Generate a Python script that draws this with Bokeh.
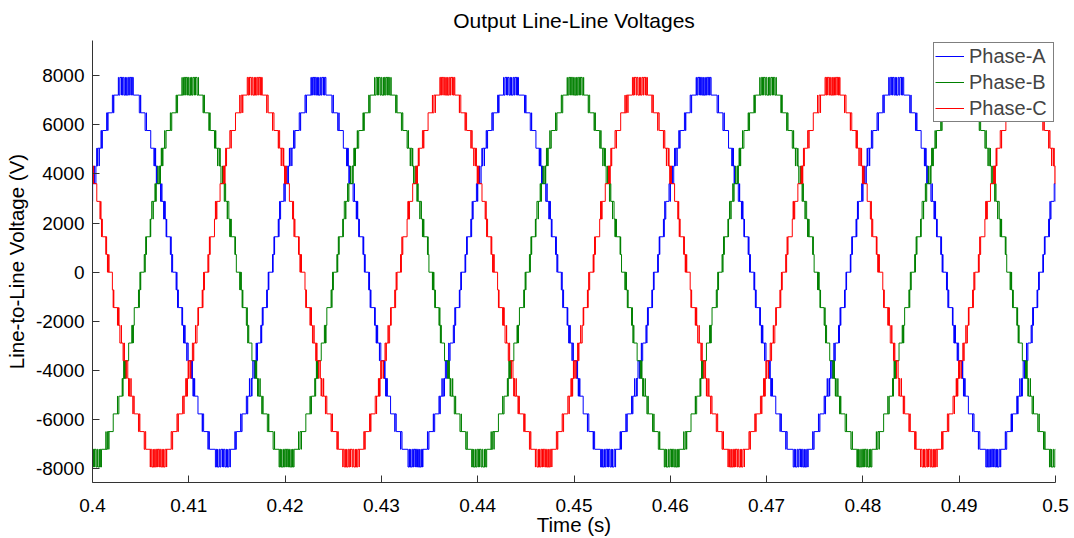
import numpy as np
from bokeh.plotting import figure
from bokeh.models import Range1d, Legend, LegendItem, FixedTicker
from bokeh.embed import file_html
from bokeh.resources import INLINE

# ---- inverter / waveform data -------------------------------------------
PHASE_NAMES = ["Phase-A", "Phase-B", "Phase-C"]
PHASE_CREST_TIME = [0.40517, 0.41183, 0.41850]   # s, first crest of each phase-leg reference
FUNDAMENTAL_FREQ = 50.0                          # Hz
PHASE_REF_PEAK = 4400.0                          # V, peak of each phase reference
LEVEL_STEP = 720.0                               # V per cell (one output level)
DITHER_BAND = 0.5                                # share of a level over which the carrier dithers
CARRIER_FREQ = 5000.0                            # Hz
TIME_SPAN = [0.4, 0.5]                           # s
VOLT_SPAN = [-8550, 9420]                        # V

X_TICKS = [0.40, 0.41, 0.42, 0.43, 0.44, 0.45, 0.46, 0.47, 0.48, 0.49, 0.50]
X_TICK_LABELS = ["0.4", "0.41", "0.42", "0.43", "0.44", "0.45",
                 "0.46", "0.47", "0.48", "0.49", "0.5"]
Y_TICKS = [-8000, -6000, -4000, -2000, 0, 2000, 4000, 6000, 8000]
Y_TICK_LABELS = ["-8000", "-6000", "-4000", "-2000", "0",
                 "2000", "4000", "6000", "8000"]

LINE_COLORS = ["#0000ff", "#008000", "#ff0000"]
FONT = "Liberation Sans"

t = np.linspace(TIME_SPAN[0], TIME_SPAN[1], 200001)
carrier = np.abs(2.0 * ((t * CARRIER_FREQ) % 1.0) - 1.0)


def phase_levels(crest_time):
    """Cell count switched in by one cascaded phase leg (nearest level with
    carrier dithering around each level change)."""
    ref = PHASE_REF_PEAK * np.cos(2 * np.pi * FUNDAMENTAL_FREQ * (t - crest_time)) / LEVEL_STEP
    band = np.floor(ref)
    threshold = 0.5 + 0.5 * DITHER_BAND * (2.0 * carrier - 1.0)
    return band + ((ref - band) > threshold)


def step_path(level):
    """Turn a sampled level signal into the vertices of a step line."""
    idx = np.nonzero(np.diff(level))[0] + 1
    xs = [t[0]]
    ys = [level[0]]
    for i in idx:
        xs.extend([t[i], t[i]])
        ys.extend([level[i - 1], level[i]])
    xs.append(t[-1])
    ys.append(level[-1])
    return np.array(xs), np.array(ys) * LEVEL_STEP


legs = [phase_levels(c) for c in PHASE_CREST_TIME]
line_levels = [legs[0] - legs[1], legs[1] - legs[2], legs[2] - legs[0]]

p = figure(width=1074, height=538, output_backend="svg", toolbar_location=None,
           x_range=Range1d(TIME_SPAN[0], TIME_SPAN[1]),
           y_range=Range1d(VOLT_SPAN[0], VOLT_SPAN[1]),
           min_border_left=92, min_border_right=19,
           min_border_top=40, min_border_bottom=56)

p.outline_line_color = None
p.xgrid.visible = False
p.ygrid.visible = False
p.background_fill_color = "white"
p.border_fill_color = "white"

p.title.text = "Output Line-Line Voltages"
p.title.align = "center"
p.title.vertical_align = "top"
p.title.text_baseline = "top"
p.title.text_font = FONT
p.title.text_font_style = "normal"
p.title.text_font_size = "21px"
p.title.text_color = "black"
p.title.standoff = 14

renderers = []
for name, lv, color in zip(PHASE_NAMES, line_levels, LINE_COLORS):
    xs, ys = step_path(lv)
    r = p.line(xs, ys, line_color=color, line_width=1)
    renderers.append(r)

for ax in (p.xaxis[0], p.yaxis[0]):
    ax.axis_line_color = "#333333"
    ax.major_tick_line_color = "#333333"
    ax.major_tick_in = 7
    ax.major_tick_out = 0
    ax.minor_tick_line_color = None
    ax.major_label_text_font = FONT
    ax.major_label_text_font_size = "19px"
    ax.major_label_text_color = "black"
    ax.axis_label_text_font = FONT
    ax.axis_label_text_font_size = "20.5px"
    ax.axis_label_text_font_style = "normal"
    ax.axis_label_text_color = "black"

p.xaxis.ticker = FixedTicker(ticks=X_TICKS)
p.xaxis.major_label_overrides = dict(zip(X_TICKS, X_TICK_LABELS))
p.xaxis.axis_label = "Time (s)"
p.xaxis.axis_label_text_line_height = 0.6
p.xaxis.major_label_standoff = 16
p.xaxis.axis_label_standoff = -2

p.yaxis.ticker = FixedTicker(ticks=Y_TICKS)
p.yaxis.major_label_overrides = dict(zip(Y_TICKS, Y_TICK_LABELS))
p.yaxis.axis_label = "Line-to-Line Voltage (V)"
p.yaxis.major_label_standoff = 8
p.yaxis.axis_label_standoff = 5

legend = Legend(items=[LegendItem(label=n, renderers=[r]) for n, r in zip(PHASE_NAMES, renderers)],
                location=(841, 360), margin=0, padding=1, spacing=2,
                glyph_width=29, glyph_height=24, label_height=24, label_standoff=5,
                label_width=83,
                label_text_font=FONT, label_text_font_size="20px",
                border_line_color="black", border_line_width=1,
                background_fill_color="white", background_fill_alpha=1.0)
p.add_layout(legend, "center")

open("out.html", "w").write(file_html(p, INLINE))
